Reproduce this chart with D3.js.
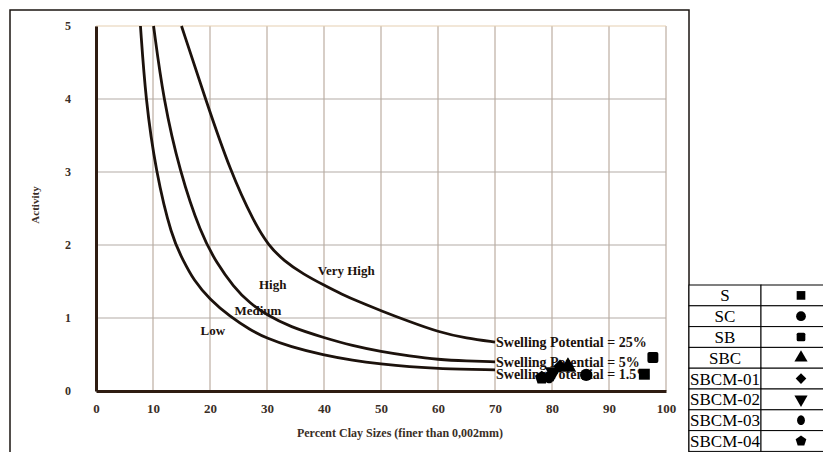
<!DOCTYPE html>
<html lang="en">
<head>
    <meta charset="UTF-8">
    <title>Activity chart</title>
    <script src="https://d3js.org/d3.v7.min.js"></script>
    <style>
        body {
            margin: 0;
            background-color: #ffffff;
            font-family: 'Liberation Serif', serif;
        }
        svg text { font-family: 'Liberation Serif', serif; }
    </style>
</head>
<body>
    <div id="chart"></div>
    <script>
        // data
        const xTicks = [0, 10, 20, 30, 40, 50, 60, 70, 80, 90, 100];
        const yTicks = [0, 1, 2, 3, 4, 5];

        const potentials = ["25%", "5%", "1.5%"];
        const curve25 = [[15,5],[19.2,4],[23.6,3],[27.8,2.3],[30.2,2.0],[33,1.78],[36.4,1.6],[40,1.45],[43,1.33],[46.5,1.21],[50,1.1],[55,0.95],[60,0.81],[65,0.72],[70,0.67]];
        const curve5 = [[10.1,5],[11.8,4],[14.7,3],[18.4,2.15],[21.2,1.75],[24.1,1.43],[27,1.2],[30,1.04],[34,0.88],[40,0.73],[45,0.62],[50,0.54],[55,0.48],[60,0.43],[65,0.41],[70,0.40]];
        const curve15 = [[7.8,5],[8.7,4],[10.5,3],[13.3,2.1],[15.3,1.79],[17.1,1.52],[20,1.25],[23.5,1.02],[27,0.84],[30,0.72],[34,0.61],[40,0.49],[45,0.42],[50,0.37],[55,0.33],[60,0.305],[70,0.29]];

        const zoneNames = ["Very High", "High", "Medium", "Low"];
        const zoneX = [43.9, 31.0, 28.4, 20.5];
        const zoneY = [1.64, 1.45, 1.10, 0.82];

        const samples = ["S", "SC", "SB", "SBC", "SBCM-01", "SBCM-02", "SBCM-03", "SBCM-04"];
        const clay = [96.2, 86.0, 97.7, 82.8, 81.4, 80.2, 79.5, 78.2];
        const activity = [0.23, 0.22, 0.46, 0.33, 0.34, 0.26, 0.19, 0.18];

        // custom marker shapes
        const pentagon = {
            draw(ctx, size) {
                const r = Math.sqrt(size / 2.38);
                for (let i = 0; i < 5; i++) {
                    const a = -Math.PI / 2 + i * 2 * Math.PI / 5;
                    i ? ctx.lineTo(r * Math.cos(a), r * Math.sin(a)) : ctx.moveTo(r * Math.cos(a), r * Math.sin(a));
                }
                ctx.closePath();
            }
        };
        const roundSquare = {
            draw(ctx, size) {
                const h = Math.sqrt(size) / 2, c = h * 0.35;
                ctx.moveTo(-h + c, -h);
                ctx.lineTo(h - c, -h); ctx.quadraticCurveTo(h, -h, h, -h + c);
                ctx.lineTo(h, h - c); ctx.quadraticCurveTo(h, h, h - c, h);
                ctx.lineTo(-h + c, h); ctx.quadraticCurveTo(-h, h, -h, h - c);
                ctx.lineTo(-h, -h + c); ctx.quadraticCurveTo(-h, -h, -h + c, -h);
                ctx.closePath();
            }
        };
        const egg = {
            draw(ctx, size) {
                const ry = Math.sqrt(size / Math.PI), rx = ry * 0.8, k = 0.5523;
                ctx.moveTo(rx, 0);
                ctx.bezierCurveTo(rx, ry * k, rx * k, ry, 0, ry);
                ctx.bezierCurveTo(-rx * k, ry, -rx, ry * k, -rx, 0);
                ctx.bezierCurveTo(-rx, -ry * k, -rx * k, -ry, 0, -ry);
                ctx.bezierCurveTo(rx * k, -ry, rx, -ry * k, rx, 0);
                ctx.closePath();
            }
        };
        const shapes = [d3.symbolSquare, d3.symbolCircle, roundSquare, d3.symbolTriangle,
                        d3.symbolSquare, d3.symbolTriangle, egg, pentagon];
        const rotations = [0, 0, 0, 0, 45, 180, 0, 0];
        const sizeScale = [1, 1, 1, 1, 0.75, 1, 1, 1];

        const W = 823, H = 452;
        const svg = d3.select("#chart").append("svg")
            .attr("width", W)
            .attr("height", H);

        const x = d3.scaleLinear().domain([0, 100]).range([96, 666]);
        const y = d3.scaleLinear().domain([0, 5]).range([391, 26]);

        // outer frame
        svg.append("rect")
            .attr("x", 10).attr("y", 10)
            .attr("width", 679).attr("height", 480)
            .attr("fill", "none")
            .attr("stroke", "#1a1410")
            .attr("stroke-width", 1.5);

        // grid
        svg.append("g")
            .selectAll("line")
            .data(xTicks)
            .enter().append("line")
            .attr("x1", d => x(d)).attr("x2", d => x(d))
            .attr("y1", y(5)).attr("y2", y(0))
            .attr("stroke", "#bcaea2")
            .attr("stroke-width", 1.2);
        svg.append("g")
            .selectAll("line")
            .data(yTicks)
            .enter().append("line")
            .attr("x1", x(0)).attr("x2", x(100))
            .attr("y1", d => y(d)).attr("y2", d => y(d))
            .attr("stroke", d => d === 5 ? "#e6cfb2" : "#b4aca6")
            .attr("stroke-width", 1.2);

        // axes
        const xAxis = svg.append("g")
            .attr("transform", `translate(0, ${y(0)})`)
            .call(d3.axisBottom(x).tickValues(xTicks).tickSize(0).tickPadding(13));
        xAxis.select(".domain").attr("stroke", "#2e1c12").attr("stroke-width", 3);
        xAxis.selectAll("text")
            .attr("font-family", "'Liberation Serif', serif")
            .attr("font-size", 13).attr("font-weight", "bold").attr("fill", "#3a2e26");

        const yAxis = svg.append("g")
            .attr("transform", `translate(${x(0)}, 0)`)
            .call(d3.axisLeft(y).tickValues(yTicks).tickFormat(d3.format("d")).tickSize(0).tickPadding(25));
        yAxis.select(".domain").attr("stroke", "#2e1c12").attr("stroke-width", 3);
        yAxis.selectAll("text")
            .attr("font-family", "'Liberation Serif', serif")
            .attr("font-size", 12).attr("font-weight", "bold").attr("fill", "#3a2e26");

        svg.append("text")
            .attr("x", 400).attr("y", 437)
            .attr("text-anchor", "middle")
            .attr("font-size", 12).attr("font-weight", "bold").attr("fill", "#3a2e26")
            .text("Percent Clay Sizes (finer than 0,002mm)");

        svg.append("text")
            .attr("transform", "translate(39, 205) rotate(-90)")
            .attr("text-anchor", "middle")
            .attr("font-size", 11).attr("font-weight", "bold").attr("fill", "#3a2e26")
            .text("Activity");

        // swelling potential curves
        const line = d3.line()
            .x(d => x(d[0]))
            .y(d => y(d[1]))
            .curve(d3.curveBasis);
        const curves = [curve25, curve5, curve15];
        svg.append("g")
            .selectAll("path")
            .data(curves)
            .enter().append("path")
            .attr("d", line)
            .attr("fill", "none")
            .attr("stroke", "#1c120c")
            .attr("stroke-width", 2.8);

        const labelDy = [5, 5, 9];
        svg.append("g")
            .selectAll("text")
            .data(potentials)
            .enter().append("text")
            .attr("x", (d, i) => x(curves[i][curves[i].length - 1][0]) + 1)
            .attr("y", (d, i) => y(curves[i][curves[i].length - 1][1]) + labelDy[i])
            .attr("font-size", 14).attr("font-weight", "bold").attr("fill", "#1c120c")
            .text(d => `Swelling Potential = ${d}`);

        svg.append("g")
            .selectAll("text")
            .data(zoneNames)
            .enter().append("text")
            .attr("x", (d, i) => x(zoneX[i]))
            .attr("y", (d, i) => y(zoneY[i]) + 4)
            .attr("text-anchor", "middle")
            .attr("font-size", 13).attr("font-weight", "bold").attr("fill", "#1c120c")
            .text(d => d);

        // sample points
        svg.append("g")
            .selectAll("path")
            .data(samples)
            .enter().append("path")
            .attr("transform", (d, i) => `translate(${x(clay[i])}, ${y(activity[i])}) rotate(${rotations[i]})`)
            .attr("d", (d, i) => d3.symbol().type(shapes[i]).size(120 * sizeScale[i])())
            .attr("fill", "#000");

        // legend table
        const rowH = 20.8, tx = 689, tw1 = 72, tw2 = 80, ty = 285;
        const legend = svg.append("g");
        const rows = legend.selectAll("g")
            .data(samples)
            .enter().append("g")
            .attr("transform", (d, i) => `translate(0, ${ty + i * rowH})`);
        rows.append("rect")
            .attr("x", tx).attr("width", tw1).attr("height", rowH)
            .attr("fill", "#fff").attr("stroke", "#000").attr("stroke-width", 1);
        rows.append("rect")
            .attr("x", tx + tw1).attr("width", tw2).attr("height", rowH)
            .attr("fill", "#fff").attr("stroke", "#000").attr("stroke-width", 1);
        rows.append("text")
            .attr("x", tx + tw1 / 2).attr("y", rowH / 2 + 6)
            .attr("text-anchor", "middle")
            .attr("font-size", 17).attr("fill", "#000")
            .text(d => d);
        rows.append("path")
            .attr("transform", (d, i) => `translate(${tx + tw1 + 40}, ${rowH / 2}) rotate(${rotations[i]})`)
            .attr("d", (d, i) => d3.symbol().type(shapes[i]).size(75 * sizeScale[i])())
            .attr("fill", "#000");
    </script>
</body>
</html>
